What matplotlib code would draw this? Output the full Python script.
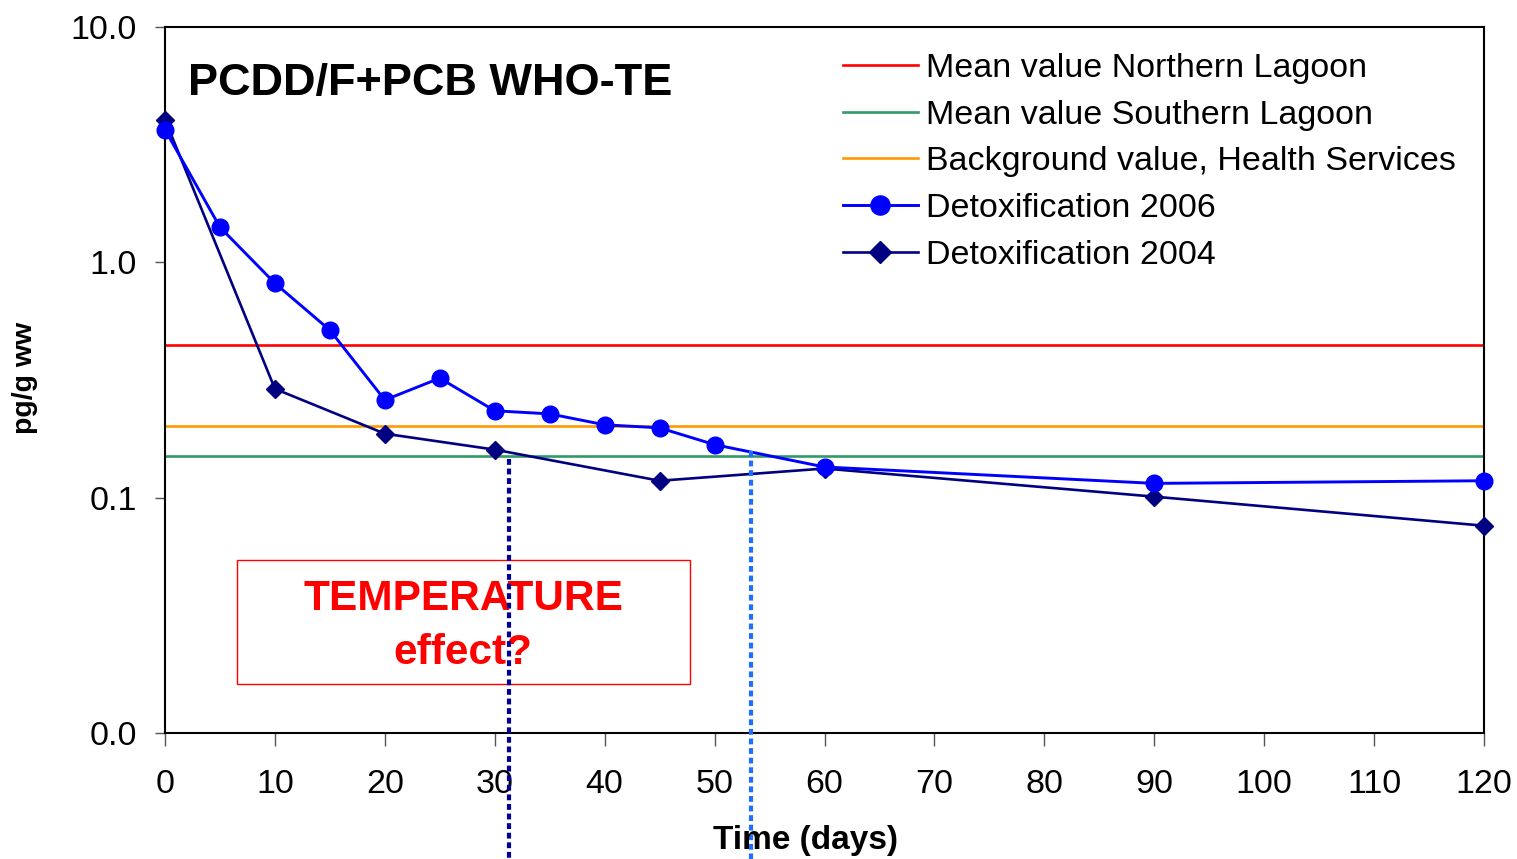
import matplotlib
matplotlib.use("Agg")
import matplotlib.pyplot as plt
from matplotlib.patches import Rectangle
from matplotlib.ticker import FixedLocator, FixedFormatter, NullLocator

plt.rcParams['font.family'] = ['Liberation Sans', 'DejaVu Sans']

# Data
days_2006 = [0, 5, 10, 15, 20, 25, 30, 35, 40, 45, 50, 60, 90, 120]
teq_2006 = [3.66, 1.41, 0.815, 0.515, 0.26, 0.322, 0.234, 0.227, 0.204, 0.198, 0.168, 0.135, 0.115, 0.118]
days_2004 = [0, 10, 20, 30, 45, 60, 90, 120]
teq_2004 = [4.04, 0.29, 0.187, 0.160, 0.118, 0.133, 0.101, 0.076]
north_mean = 0.445
south_mean = 0.151
background = 0.202
marker_day_2004 = 31.3
marker_day_2006 = 53.3
x_ticks = list(range(0, 121, 10))
y_ticks = [0.01, 0.1, 1.0, 10.0]
y_tick_labels = ["0.0", "0.1", "1.0", "10.0"]

fig = plt.figure(figsize=(15.17, 8.59), dpi=100)
ax = fig.add_axes([165/1517, 1-733/859, (1484-165)/1517, (733-27)/859])
ax.set_yscale('log')
ax.set_xlim(0, 120)
ax.set_ylim(0.01, 10)

ax.axhline(north_mean, color='#FF0000', lw=1.9, label='Mean value Northern Lagoon', zorder=2)
ax.axhline(south_mean, color='#339966', lw=1.9, label='Mean value Southern Lagoon', zorder=2)
ax.axhline(background, color='#FF9900', lw=1.9, label='Background value, Health Services', zorder=2)
ax.plot(days_2006, teq_2006, color='#0000FF', lw=2.1, marker='o', markersize=12,
        label='Detoxification 2006', zorder=4, clip_on=False)
ax.plot(days_2004, teq_2004, color='#000080', lw=1.9, marker='D', markersize=9.5,
        label='Detoxification 2004', zorder=3, clip_on=False)

# dotted vertical markers extending below the axes
ax.plot([marker_day_2004, marker_day_2004], [0.146, 0.0029], color='#000099', lw=3,
        linestyle=(0, (1.4, 0.9)), clip_on=False, zorder=5)
ax.plot([marker_day_2006, marker_day_2006], [0.158, 0.0029], color='#1F6FFF', lw=3,
        linestyle=(0, (1.4, 0.9)), clip_on=False, zorder=5)

ax.xaxis.set_major_locator(FixedLocator(x_ticks))
ax.yaxis.set_major_locator(FixedLocator(y_ticks))
ax.yaxis.set_major_formatter(FixedFormatter(y_tick_labels))
ax.yaxis.set_minor_locator(NullLocator())
ax.tick_params(axis='x', direction='out', length=9, width=1, pad=17, labelsize=24.5, color='#555555')
ax.tick_params(axis='y', direction='out', length=7, width=1, pad=13, labelsize=24.5, color='#555555')
for s in ax.spines.values():
    s.set_linewidth(1.5)
    s.set_color('black')

ax.text(23/1319, 1-(83-27)/706, 'PCDD/F+PCB WHO-TE', transform=ax.transAxes,
        fontsize=32.5, fontweight='bold', ha='left', va='center')

rect = Rectangle(((237-165)/1319, 1-(684-27)/706), (690-237)/1319, (684-560)/706,
                 transform=ax.transAxes, fill=False, edgecolor='#FF0000', lw=1.0, zorder=3)
ax.add_patch(rect)
ax.text((463-165)/1319, 1-(626-27)/706, 'TEMPERATURE\neffect?', transform=ax.transAxes,
        color='#FF0000', fontsize=30.5, fontweight='bold', ha='center', va='center',
        linespacing=1.42, zorder=4)

fig.text(806/1517, 1-840/859, 'Time (days)', fontsize=24, fontweight='bold', ha='center', va='center')
fig.text(25/1517, 1-378/859, 'pg/g ww', fontsize=20.5, fontweight='bold', rotation=90,
         ha='center', va='center')

leg = ax.legend(loc='upper left', bbox_to_anchor=((843-165)/1319, 1-(53-27)/706),
                frameon=False, fontsize=24.5, handlelength=2.2, handletextpad=0.25,
                labelspacing=0.46, borderpad=0, borderaxespad=0, markerscale=1.15)

fig.savefig('out.png', dpi=100)
